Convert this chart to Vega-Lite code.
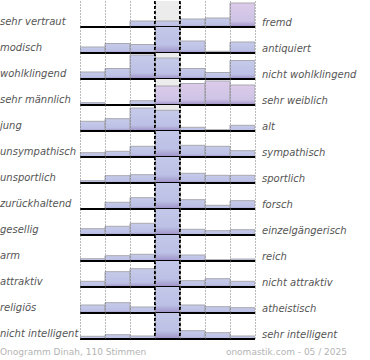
{
  "$schema": "https://vega.github.io/schema/vega-lite/v6.json",
  "padding": 0,
  "background": "white",
  "config": {"view": {"stroke": null}, "font": "DejaVu Sans"},
  "datasets": {
    "pairs": [
      {"pair": 1, "left": "sehr vertraut", "right": "fremd"},
      {"pair": 2, "left": "modisch", "right": "antiquiert"},
      {"pair": 3, "left": "wohlklingend", "right": "nicht wohlklingend"},
      {"pair": 4, "left": "sehr männlich", "right": "sehr weiblich"},
      {"pair": 5, "left": "jung", "right": "alt"},
      {"pair": 6, "left": "unsympathisch", "right": "sympathisch"},
      {"pair": 7, "left": "unsportlich", "right": "sportlich"},
      {"pair": 8, "left": "zurückhaltend", "right": "forsch"},
      {"pair": 9, "left": "gesellig", "right": "einzelgängerisch"},
      {"pair": 10, "left": "arm", "right": "reich"},
      {"pair": 11, "left": "attraktiv", "right": "nicht attraktiv"},
      {"pair": 12, "left": "religiös", "right": "atheistisch"},
      {"pair": 13, "left": "nicht intelligent", "right": "sehr intelligent"}
    ],
    "votes": [
      {"pair": 1, "pos": 1, "v": 0, "group": "normal"},
      {"pair": 1, "pos": 2, "v": 0, "group": "normal"},
      {"pair": 1, "pos": 3, "v": 6, "group": "normal"},
      {"pair": 1, "pos": 4, "v": 6, "group": "normal"},
      {"pair": 1, "pos": 5, "v": 8, "group": "normal"},
      {"pair": 1, "pos": 6, "v": 9, "group": "normal"},
      {"pair": 1, "pos": 7, "v": 24, "group": "highlight"},
      {"pair": 2, "pos": 1, "v": 6, "group": "normal"},
      {"pair": 2, "pos": 2, "v": 9.5, "group": "normal"},
      {"pair": 2, "pos": 3, "v": 8.5, "group": "normal"},
      {"pair": 2, "pos": 4, "v": 32, "group": "normal"},
      {"pair": 2, "pos": 5, "v": 12, "group": "normal"},
      {"pair": 2, "pos": 6, "v": 1.7, "group": "normal"},
      {"pair": 2, "pos": 7, "v": 11, "group": "normal"},
      {"pair": 3, "pos": 1, "v": 7, "group": "normal"},
      {"pair": 3, "pos": 2, "v": 10.5, "group": "normal"},
      {"pair": 3, "pos": 3, "v": 24, "group": "normal"},
      {"pair": 3, "pos": 4, "v": 21, "group": "normal"},
      {"pair": 3, "pos": 5, "v": 10.5, "group": "normal"},
      {"pair": 3, "pos": 6, "v": 6.5, "group": "normal"},
      {"pair": 3, "pos": 7, "v": 18.5, "group": "normal"},
      {"pair": 4, "pos": 1, "v": 2.3, "group": "normal"},
      {"pair": 4, "pos": 2, "v": 0, "group": "normal"},
      {"pair": 4, "pos": 3, "v": 4.3, "group": "normal"},
      {"pair": 4, "pos": 4, "v": 19, "group": "highlight"},
      {"pair": 4, "pos": 5, "v": 21.5, "group": "highlight"},
      {"pair": 4, "pos": 6, "v": 24, "group": "highlight"},
      {"pair": 4, "pos": 7, "v": 20, "group": "highlight"},
      {"pair": 5, "pos": 1, "v": 9.7, "group": "normal"},
      {"pair": 5, "pos": 2, "v": 12.3, "group": "normal"},
      {"pair": 5, "pos": 3, "v": 23, "group": "normal"},
      {"pair": 5, "pos": 4, "v": 20.7, "group": "normal"},
      {"pair": 5, "pos": 5, "v": 3.7, "group": "normal"},
      {"pair": 5, "pos": 6, "v": 1.3, "group": "normal"},
      {"pair": 5, "pos": 7, "v": 5.7, "group": "normal"},
      {"pair": 6, "pos": 1, "v": 4.3, "group": "normal"},
      {"pair": 6, "pos": 2, "v": 5.7, "group": "normal"},
      {"pair": 6, "pos": 3, "v": 10.7, "group": "normal"},
      {"pair": 6, "pos": 4, "v": 32, "group": "normal"},
      {"pair": 6, "pos": 5, "v": 11.7, "group": "normal"},
      {"pair": 6, "pos": 6, "v": 10.7, "group": "normal"},
      {"pair": 6, "pos": 7, "v": 6.3, "group": "normal"},
      {"pair": 7, "pos": 1, "v": 2.3, "group": "normal"},
      {"pair": 7, "pos": 2, "v": 7.3, "group": "normal"},
      {"pair": 7, "pos": 3, "v": 8.3, "group": "normal"},
      {"pair": 7, "pos": 4, "v": 32, "group": "normal"},
      {"pair": 7, "pos": 5, "v": 9.7, "group": "normal"},
      {"pair": 7, "pos": 6, "v": 7.7, "group": "normal"},
      {"pair": 7, "pos": 7, "v": 7.7, "group": "normal"},
      {"pair": 8, "pos": 1, "v": 0, "group": "normal"},
      {"pair": 8, "pos": 2, "v": 6.7, "group": "normal"},
      {"pair": 8, "pos": 3, "v": 11.3, "group": "normal"},
      {"pair": 8, "pos": 4, "v": 32, "group": "normal"},
      {"pair": 8, "pos": 5, "v": 9.3, "group": "normal"},
      {"pair": 8, "pos": 6, "v": 3.7, "group": "normal"},
      {"pair": 8, "pos": 7, "v": 8.3, "group": "normal"},
      {"pair": 9, "pos": 1, "v": 6.3, "group": "normal"},
      {"pair": 9, "pos": 2, "v": 8.7, "group": "normal"},
      {"pair": 9, "pos": 3, "v": 11.7, "group": "normal"},
      {"pair": 9, "pos": 4, "v": 32, "group": "normal"},
      {"pair": 9, "pos": 5, "v": 5.7, "group": "normal"},
      {"pair": 9, "pos": 6, "v": 4.3, "group": "normal"},
      {"pair": 9, "pos": 7, "v": 5.3, "group": "normal"},
      {"pair": 10, "pos": 1, "v": 2.3, "group": "normal"},
      {"pair": 10, "pos": 2, "v": 5.3, "group": "normal"},
      {"pair": 10, "pos": 3, "v": 6.7, "group": "normal"},
      {"pair": 10, "pos": 4, "v": 32, "group": "normal"},
      {"pair": 10, "pos": 5, "v": 6, "group": "normal"},
      {"pair": 10, "pos": 6, "v": 1.3, "group": "normal"},
      {"pair": 10, "pos": 7, "v": 2, "group": "normal"},
      {"pair": 11, "pos": 1, "v": 5.7, "group": "normal"},
      {"pair": 11, "pos": 2, "v": 15.3, "group": "normal"},
      {"pair": 11, "pos": 3, "v": 18.3, "group": "normal"},
      {"pair": 11, "pos": 4, "v": 32, "group": "normal"},
      {"pair": 11, "pos": 5, "v": 6.3, "group": "normal"},
      {"pair": 11, "pos": 6, "v": 8.3, "group": "normal"},
      {"pair": 11, "pos": 7, "v": 5.7, "group": "normal"},
      {"pair": 12, "pos": 1, "v": 8, "group": "normal"},
      {"pair": 12, "pos": 2, "v": 10.3, "group": "normal"},
      {"pair": 12, "pos": 3, "v": 6, "group": "normal"},
      {"pair": 12, "pos": 4, "v": 32, "group": "normal"},
      {"pair": 12, "pos": 5, "v": 8, "group": "normal"},
      {"pair": 12, "pos": 6, "v": 6.3, "group": "normal"},
      {"pair": 12, "pos": 7, "v": 5.3, "group": "normal"},
      {"pair": 13, "pos": 1, "v": 2.7, "group": "normal"},
      {"pair": 13, "pos": 2, "v": 4.3, "group": "normal"},
      {"pair": 13, "pos": 3, "v": 3, "group": "normal"},
      {"pair": 13, "pos": 4, "v": 32, "group": "normal"},
      {"pair": 13, "pos": 5, "v": 8.3, "group": "normal"},
      {"pair": 13, "pos": 6, "v": 6.3, "group": "normal"},
      {"pair": 13, "pos": 7, "v": 3, "group": "normal"}
    ],
    "footer": [
      {"p": 0, "t": "Onogramm Dinah, 110 Stimmen"},
      {"p": 1, "t": "onomastik.com - 05 / 2025"}
    ]
  },
  "spacing": 7,
  "vconcat": [
    {
      "data": {"name": "votes"},
      "transform": [
        {"lookup": "pair", "from": {"data": {"name": "pairs"}, "key": "pair", "fields": ["left", "right"]}}
      ],
      "facet": {
        "row": {
          "field": "left", "type": "nominal",
          "sort": {"field": "pair", "op": "min"},
          "header": {"title": null, "labels": false}
        }
      },
      "spacing": 0,
      "bounds": "flush",
      "spec": {
        "width": 175,
        "height": 26,
        "layer": [
          {
            "mark": {"type": "rect", "color": "#ececec"},
            "encoding": {
              "x": {
                "datum": 4, "type": "ordinal",
                "scale": {"domain": [1, 2, 3, 4, 5, 6, 7], "paddingInner": 0, "paddingOuter": 0},
                "axis": {"title": null, "labels": false, "ticks": false, "domain": false, "grid": true,
                         "tickBand": "extent", "gridDash": [1, 2], "gridColor": "#777777", "gridWidth": 1}
              }
            }
          },
          {
            "transform": [{"filter": "datum.group == 'normal'"}],
            "mark": {
              "type": "bar", "clip": true, "stroke": "#a8a8b0", "strokeWidth": 1,
              "color": {"gradient": "linear", "x1": 0, "y1": 0, "x2": 0, "y2": 1,
                "stops": [{"offset": 0, "color": "#c6cbea"}, {"offset": 0.75, "color": "#bcc0e5"}, {"offset": 1, "color": "#9d8fc6"}]}
            },
            "encoding": {
              "x": {"field": "pos", "type": "ordinal"},
              "y": {"field": "v", "type": "quantitative", "scale": {"domain": [0, 26], "nice": false}, "axis": null}
            }
          },
          {
            "transform": [{"filter": "datum.group == 'highlight'"}],
            "mark": {
              "type": "bar", "clip": true, "stroke": "#a8a8b0", "strokeWidth": 1,
              "color": {"gradient": "linear", "x1": 0, "y1": 0, "x2": 0, "y2": 1,
                "stops": [{"offset": 0, "color": "#dccae9"}, {"offset": 0.75, "color": "#cec4e6"}, {"offset": 1, "color": "#9d8fc6"}]}
            },
            "encoding": {
              "x": {"field": "pos", "type": "ordinal"},
              "y": {"field": "v", "type": "quantitative"}
            }
          },
          {
            "mark": {"type": "rule", "color": "#000000", "strokeDash": [3, 2], "strokeWidth": 1},
            "encoding": {"x": {"datum": 4, "type": "ordinal", "bandPosition": 0}}
          },
          {
            "mark": {"type": "rule", "color": "#000000", "strokeDash": [3, 2], "strokeWidth": 1},
            "encoding": {"x": {"datum": 4, "type": "ordinal", "bandPosition": 1}}
          },
          {
            "mark": {"type": "rule", "color": "#000000", "strokeWidth": 2},
            "encoding": {"y": {"datum": 0, "type": "quantitative"}}
          },
          {
            "transform": [{"filter": "datum.pos == 1"}],
            "mark": {"type": "text", "align": "left", "baseline": "alphabetic", "dx": 7, "dy": -1,
                     "fontStyle": "italic", "fontSize": 10, "color": "#555555"},
            "encoding": {
              "x": {"datum": 7, "type": "ordinal", "bandPosition": 1},
              "y": {"datum": 0, "type": "quantitative"},
              "text": {"field": "right"}
            }
          },
          {
            "transform": [{"filter": "datum.pos == 1"}],
            "mark": {"type": "text", "align": "left", "baseline": "alphabetic", "dx": -80, "dy": -2,
                     "fontStyle": "italic", "fontSize": 10, "color": "#555555"},
            "encoding": {
              "x": {"datum": 1, "type": "ordinal", "bandPosition": 0},
              "y": {"datum": 0, "type": "quantitative"},
              "text": {"field": "left"}
            }
          }
        ]
      }
    },
    {
      "width": 267,
      "height": 10,
      "data": {"name": "footer"},
      "layer": [
        {
          "transform": [{"filter": "datum.p == 0"}],
          "mark": {"type": "text", "align": "left", "baseline": "middle", "dx": -80, "fontSize": 9, "color": "#b4b4b4"},
          "encoding": {
            "x": {"field": "p", "type": "quantitative", "scale": {"domain": [0, 1]}, "axis": null},
            "text": {"field": "t"}
          }
        },
        {
          "transform": [{"filter": "datum.p == 1"}],
          "mark": {"type": "text", "align": "right", "baseline": "middle", "fontSize": 9, "color": "#b4b4b4"},
          "encoding": {
            "x": {"field": "p", "type": "quantitative"},
            "text": {"field": "t"}
          }
        }
      ]
    }
  ]
}
